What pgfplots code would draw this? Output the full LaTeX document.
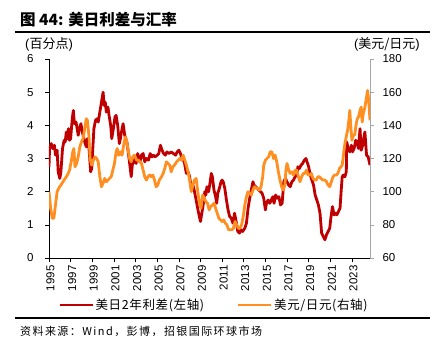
\documentclass[border=0pt]{standalone}
\usepackage{pgfplots}
\pgfplotsset{compat=1.18}
\usepackage{pgfplotstable}
\usepackage{fontspec}
\setmainfont{Liberation Sans}
\newfontfamily\cjk{Noto Sans CJK SC}
\newfontfamily\cjkleg[LetterSpace=5]{Noto Sans CJK SC}
\newfontfamily\cjksrc[LetterSpace=13]{Noto Sans CJK SC}
\definecolor{cred}{RGB}{192,0,0}
\definecolor{corange}{RGB}{255,143,32}

\pgfplotstableread{
x y
1995.0 2.75
1995.05 3.3
1995.2 3.45
1995.35 3.3
1995.5 3.4
1995.6 3.1
1995.75 3.25
1995.85 2.6
1996.0 2.4
1996.1 2.6
1996.25 3.3
1996.4 3.55
1996.5 3.5
1996.6 3.8
1996.7 3.6
1996.8 3.9
1996.9 3.55
1997.0 3.6
1997.15 4.2
1997.25 4.45
1997.35 4.05
1997.5 4.1
1997.6 3.9
1997.7 3.7
1997.8 3.9
1997.95 4.05
1998.05 3.85
1998.15 3.7
1998.3 3.5
1998.45 3.35
1998.55 3.6
1998.7 3.3
1998.85 2.6
1998.95 2.7
1999.05 3.3
1999.15 3.9
1999.3 4.15
1999.45 4.2
1999.55 4.1
1999.65 4.3
1999.8 4.6
2000.0 5.0
2000.1 4.6
2000.2 4.7
2000.3 4.4
2000.45 4.55
2000.55 4.3
2000.7 4.0
2000.8 3.6
2000.95 3.9
2001.1 4.25
2001.2 4.3
2001.35 4.0
2001.5 3.45
2001.6 3.6
2001.7 3.8
2001.85 4.05
2002.0 3.7
2002.2 3.5
2002.4 3.0
2002.6 2.45
2002.7 2.8
2002.9 3.0
2003.05 2.85
2003.2 3.15
2003.4 2.9
2003.55 3.1
2003.7 3.15
2003.85 2.9
2004.0 3.0
2004.2 2.95
2004.35 3.15
2004.5 3.05
2004.65 3.1
2004.8 3.05
2005.0 3.1
2005.15 3.15
2005.3 3.4
2005.45 3.25
2005.6 3.15
2005.75 3.1
2005.9 3.2
2006.1 3.15
2006.3 3.2
2006.5 3.15
2006.7 3.1
2006.85 3.2
2007.0 3.25
2007.15 3.15
2007.3 3.0
2007.5 2.9
2007.7 2.55
2007.85 2.6
2008.0 2.45
2008.15 2.1
2008.3 2.2
2008.45 2.0
2008.6 1.75
2008.8 1.4
2009.0 1.1
2009.1 1.3
2009.25 1.6
2009.4 2.0
2009.5 1.9
2009.6 2.15
2009.75 2.0
2009.9 2.3
2010.0 2.55
2010.1 2.45
2010.25 2.05
2010.4 1.85
2010.5 1.65
2010.6 1.95
2010.75 2.1
2010.9 2.3
2011.0 2.35
2011.1 2.3
2011.25 2.1
2011.4 1.75
2011.55 1.45
2011.7 1.25
2011.85 1.2
2012.0 1.05
2012.15 1.35
2012.3 1.1
2012.45 0.8
2012.6 0.75
2012.75 0.85
2012.9 0.8
2013.1 0.9
2013.25 1.05
2013.4 1.5
2013.55 1.8
2013.7 2.05
2013.85 2.3
2013.95 2.2
2014.1 2.15
2014.25 2.1
2014.4 2.05
2014.55 2.0
2014.7 1.95
2014.85 1.8
2015.0 1.45
2015.1 1.65
2015.25 1.75
2015.4 1.65
2015.55 1.75
2015.7 1.85
2015.8 1.65
2015.95 1.9
2016.1 1.8
2016.25 1.85
2016.4 1.6
2016.55 1.65
2016.7 2.3
2016.85 2.4
2017.0 2.3
2017.15 2.2
2017.3 2.15
2017.45 2.3
2017.6 2.35
2017.75 2.45
2017.9 2.5
2018.0 2.75
2018.15 2.7
2018.3 2.8
2018.45 2.85
2018.6 2.95
2018.75 3.0
2018.9 2.85
2019.0 2.75
2019.15 2.5
2019.3 2.35
2019.45 2.2
2019.6 1.9
2019.75 1.75
2019.9 1.6
2020.05 1.35
2020.2 0.75
2020.35 0.65
2020.5 0.55
2020.65 0.7
2020.8 0.8
2020.95 0.9
2021.05 1.2
2021.2 1.55
2021.35 1.3
2021.5 1.35
2021.6 1.3
2021.75 1.4
2021.9 1.5
2022.0 2.0
2022.1 2.45
2022.2 2.5
2022.35 2.45
2022.48 2.6
2022.52 3.5
2022.65 3.3
2022.8 3.2
2022.95 3.4
2023.05 3.2
2023.2 3.3
2023.35 3.55
2023.5 3.45
2023.6 3.3
2023.75 3.9
2023.85 3.25
2024.0 3.4
2024.05 3.55
2024.2 3.8
2024.35 3.1
2024.5 3.05
2024.67 2.8
}\spread

\pgfplotstableread{
x y
1995.0 100
1995.15 90
1995.3 84
1995.45 84
1995.6 92
1995.75 100
1995.9 102
1996.1 104
1996.3 106
1996.5 108
1996.7 110
1996.9 113
1997.05 118
1997.2 124
1997.3 126
1997.4 115
1997.55 117
1997.7 121
1997.85 127
1998.0 130
1998.15 132
1998.3 138
1998.45 144
1998.55 143
1998.7 133
1998.8 120
1998.95 116
1999.1 119
1999.25 121
1999.4 120
1999.55 118
1999.7 109
1999.85 103
2000.0 105
2000.15 108
2000.3 106
2000.45 107
2000.6 108
2000.75 109
2000.9 113
2001.05 117
2001.2 124
2001.3 126
2001.45 122
2001.6 124
2001.75 122
2001.9 128
2002.05 133
2002.15 131
2002.3 126
2002.45 120
2002.6 118
2002.75 121
2002.9 122
2003.1 119
2003.25 119
2003.4 118
2003.55 117
2003.7 113
2003.85 109
2004.0 107
2004.15 109
2004.3 110
2004.45 109
2004.6 110
2004.75 107
2004.9 103
2005.05 104
2005.2 107
2005.4 109
2005.55 111
2005.7 114
2005.85 118
2006.0 117
2006.15 116
2006.3 112
2006.45 115
2006.6 116
2006.8 118
2006.95 119
2007.1 120
2007.25 119
2007.4 122
2007.55 119
2007.7 116
2007.85 112
2008.0 107
2008.15 100
2008.3 104
2008.45 107
2008.6 108
2008.75 100
2008.9 93
2009.05 90
2009.2 98
2009.35 96
2009.5 94
2009.65 93
2009.8 89
2009.95 91
2010.1 92
2010.25 93
2010.4 90
2010.55 87
2010.7 84
2010.85 83
2011.0 82
2011.15 83
2011.3 81
2011.45 80
2011.6 77
2011.75 77
2011.9 77
2012.05 78
2012.2 82
2012.35 80
2012.5 78
2012.65 78
2012.8 80
2012.95 85
2013.1 92
2013.25 97
2013.4 100
2013.55 99
2013.7 98
2013.85 101
2014.0 103
2014.15 102
2014.3 102
2014.45 101
2014.6 103
2014.75 109
2014.85 116
2015.0 119
2015.15 120
2015.3 121
2015.45 124
2015.6 124
2015.75 120
2015.9 122
2016.05 118
2016.2 112
2016.35 107
2016.5 103
2016.65 101
2016.8 104
2016.9 113
2017.0 117
2017.15 113
2017.3 111
2017.45 112
2017.6 110
2017.75 113
2017.9 113
2018.05 109
2018.2 106
2018.35 109
2018.5 111
2018.65 111
2018.8 113
2018.95 110
2019.1 110
2019.25 111
2019.4 108
2019.55 107
2019.7 107
2019.85 109
2020.0 109
2020.15 108
2020.3 107
2020.5 107
2020.65 106
2020.8 104
2020.95 103
2021.1 106
2021.25 109
2021.4 110
2021.55 110
2021.7 111
2021.85 114
2022.0 115
2022.1 116
2022.25 124
2022.35 129
2022.5 134
2022.6 137
2022.75 145
2022.8 149
2022.9 139
2023.0 131
2023.1 134
2023.25 134
2023.4 141
2023.5 144
2023.6 145
2023.75 149
2023.85 151
2023.95 142
2024.05 147
2024.2 151
2024.35 157
2024.45 161
2024.55 155
2024.67 143
}\fx

\begin{document}
\begin{tikzpicture}
\useasboundingbox (0pt,0pt) rectangle (437pt,-351pt);
\node[anchor=west, inner sep=0pt, font=\cjk\bfseries\fontsize{15.5}{17}\selectfont] at (20pt,-20pt) {图 44: 美日利差与汇率};
\draw[line width=2.2pt] (15pt,-32pt) -- (430pt,-32pt);
\draw[line width=2.2pt] (15pt,-318pt) -- (430pt,-318pt);
\node[anchor=west, inner sep=0pt, font=\cjksrc\fontsize{11}{13}\selectfont] at (20pt,-331pt) {资料来源：Wind，彭博，招银国际环球市场};
\node[anchor=west, inner sep=0pt, font=\fontsize{13}{15}\selectfont] at (25pt,-44pt) {(\cjk 百分点\rmfamily)};
\node[anchor=east, inner sep=0pt, font=\fontsize{13}{15}\selectfont] at (420pt,-44pt) {(\cjk 美元/日元\rmfamily)};

\begin{axis}[
  at={(49pt,-258pt)}, anchor=south west,
  scale only axis, width=321pt, height=199pt,
  xmin=1995, xmax=2024.67, ymin=0, ymax=6,
  axis x line*=bottom, axis y line*=left,
  axis line style={-, black, line width=0.8pt},
  xtick={1995,1997,...,2023}, ytick={0,1,...,6},
  tick align=outside, major tick length=4pt,
  tick style={black, line width=0.6pt},
  xtick pos=bottom, ytick pos=left,
  ticklabel style={font=\fontsize{11.5}{13}\selectfont},
  yticklabel style={xshift=-8pt},
  /pgf/number format/assume math mode=true,
  xticklabel style={rotate=90, anchor=east, yshift=-1.5pt, /pgf/number format/1000 sep={}},
  legend style={draw=none, fill=none, at={(0.02,-0.236)}, anchor=west,
    font=\cjkleg\fontsize{12.5}{14}\selectfont, legend columns=2,
    /tikz/every even column/.append style={column sep=31pt}},
  legend image code/.code={\draw[#1, line width=2pt] (0pt,0pt) -- (33pt,0pt);},
]
\addplot[cred, line width=2.8pt, line join=round] table {\spread};
\addlegendentry{美日2年利差(左轴)}
\addlegendimage{corange, line width=2pt}
\addlegendentry{美元/日元(右轴)}
\end{axis}

\begin{axis}[
  at={(49pt,-258pt)}, anchor=south west,
  scale only axis, width=321pt, height=199pt,
  xmin=1995, xmax=2024.67, ymin=60, ymax=180,
  axis x line=none, axis y line*=right,
  axis line style={-, gray!70, line width=0.8pt},
  ytick={60,80,...,180},
  tick align=outside, major tick length=4pt,
  tick style={gray!70, line width=0.6pt},
  ytick pos=right,
  ticklabel style={font=\fontsize{11.5}{13}\selectfont},
  yticklabel style={xshift=5pt},
  /pgf/number format/assume math mode=true,
]
\addplot[corange, line width=2.8pt, line join=round] table {\fx};
\end{axis}
\end{tikzpicture}
\end{document}
